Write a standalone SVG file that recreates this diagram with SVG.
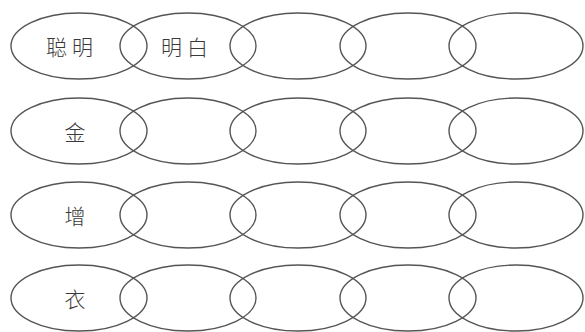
<svg xmlns="http://www.w3.org/2000/svg" width="585" height="332" viewBox="0 0 585 332">
<style>
.e{fill:none;stroke:#555;stroke-width:1.4}
.t{font-family:"Noto Sans CJK SC","Noto Sans CJK JP",sans-serif;font-size:21px;fill:#3a3a3a;text-anchor:middle;dominant-baseline:central;font-weight:300}
</style>
<rect width="585" height="332" fill="#fff"/>
<g id="row1">
<g id="n1-1"><ellipse class="e" cx="79" cy="46" rx="68" ry="33"/><text class="t" x="72" y="46" letter-spacing="5">聪明</text></g>
<g id="n1-2"><ellipse class="e" cx="188" cy="46" rx="68" ry="33"/><text class="t" x="187" y="46" letter-spacing="5">明白</text></g>
<g id="n1-3"><ellipse class="e" cx="298" cy="46" rx="68" ry="33"/></g>
<g id="n1-4"><ellipse class="e" cx="408" cy="46" rx="68" ry="33"/></g>
<g id="n1-5"><ellipse class="e" cx="516" cy="46" rx="67" ry="33"/></g>
</g>
<g id="row2">
<g id="n2-1"><ellipse class="e" cx="79" cy="131" rx="68" ry="33"/><text class="t" x="75" y="131">金</text></g>
<g id="n2-2"><ellipse class="e" cx="188" cy="131" rx="68" ry="33"/></g>
<g id="n2-3"><ellipse class="e" cx="298" cy="131" rx="68" ry="33"/></g>
<g id="n2-4"><ellipse class="e" cx="408" cy="131" rx="68" ry="33"/></g>
<g id="n2-5"><ellipse class="e" cx="516" cy="131" rx="67" ry="33"/></g>
</g>
<g id="row3">
<g id="n3-1"><ellipse class="e" cx="79" cy="215" rx="68" ry="33"/><text class="t" x="75" y="215">增</text></g>
<g id="n3-2"><ellipse class="e" cx="188" cy="215" rx="68" ry="33"/></g>
<g id="n3-3"><ellipse class="e" cx="298" cy="215" rx="68" ry="33"/></g>
<g id="n3-4"><ellipse class="e" cx="408" cy="215" rx="68" ry="33"/></g>
<g id="n3-5"><ellipse class="e" cx="516" cy="215" rx="67" ry="33"/></g>
</g>
<g id="row4">
<g id="n4-1"><ellipse class="e" cx="79" cy="298" rx="68" ry="33"/><text class="t" x="75" y="298">衣</text></g>
<g id="n4-2"><ellipse class="e" cx="188" cy="298" rx="68" ry="33"/></g>
<g id="n4-3"><ellipse class="e" cx="298" cy="298" rx="68" ry="33"/></g>
<g id="n4-4"><ellipse class="e" cx="408" cy="298" rx="68" ry="33"/></g>
<g id="n4-5"><ellipse class="e" cx="516" cy="298" rx="67" ry="33"/></g>
</g>
<g id="connectors"></g>
</svg>
